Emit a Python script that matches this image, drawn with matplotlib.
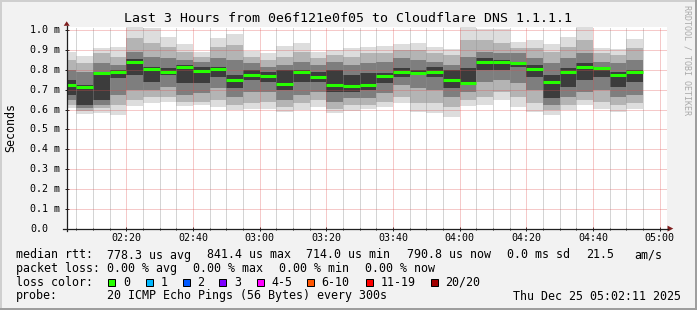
import matplotlib
matplotlib.use("Agg")
import matplotlib.pyplot as plt
from matplotlib.patches import Rectangle, Polygon
from matplotlib.lines import Line2D
from matplotlib.transforms import blended_transform_factory
import numpy as np

# ---------------- data ----------------
title = "Last 3 Hours from 0e6f121e0f05 to Cloudflare DNS 1.1.1.1"
graph_start_min = 2 + 11 / 60.0          # 02:02:11 (minutes after 02:00)
graph_span_min = 180
bar_end_min = list(range(5, 180, 5))     # 02:05 ... 04:55 (5-minute steps)

median_ms = [0.722, 0.714, 0.786, 0.789, 0.841, 0.805, 0.789, 0.813, 0.796, 0.803,
             0.749, 0.776, 0.768, 0.730, 0.789, 0.763, 0.724, 0.719, 0.725, 0.769,
             0.788, 0.783, 0.789, 0.747, 0.735, 0.840, 0.840, 0.835, 0.805, 0.740,
             0.789, 0.813, 0.808, 0.776, 0.791]

# smoke: outer (min/max) -> inner levels of the sorted pings
smoke_hi1 = [0.892, 0.872, 0.909, 0.914, 1.015, 1.012, 0.968, 0.931, 0.891, 0.963,
             0.980, 0.896, 0.887, 0.921, 0.938, 0.891, 0.901, 0.911, 0.917, 0.921,
             0.931, 0.938, 0.917, 0.904, 1.015, 1.005, 1.005, 0.941, 0.951, 0.931,
             0.968, 1.015, 0.911, 0.904, 0.956]
smoke_hi2 = [0.850, 0.833, 0.884, 0.867, 0.959, 0.934, 0.917, 0.892, 0.867, 0.917,
             0.926, 0.867, 0.850, 0.867, 0.892, 0.859, 0.875, 0.867, 0.884, 0.884,
             0.901, 0.901, 0.884, 0.875, 0.951, 0.951, 0.934, 0.909, 0.909, 0.892,
             0.917, 0.951, 0.884, 0.875, 0.909]
smoke_hi3 = [0.800, 0.791, 0.833, 0.825, 0.892, 0.867, 0.859, 0.850, 0.842, 0.859,
             0.850, 0.833, 0.817, 0.825, 0.842, 0.825, 0.842, 0.825, 0.833, 0.842,
             0.859, 0.850, 0.842, 0.825, 0.867, 0.892, 0.884, 0.884, 0.859, 0.833,
             0.859, 0.884, 0.842, 0.833, 0.850]
smoke_hi4 = [0.749, 0.724, 0.791, 0.800, 0.854, 0.817, 0.808, 0.825, 0.817, 0.817,
             0.775, 0.800, 0.791, 0.800, 0.800, 0.791, 0.800, 0.775, 0.783, 0.783,
             0.808, 0.800, 0.817, 0.800, 0.808, 0.859, 0.850, 0.842, 0.825, 0.775,
             0.808, 0.833, 0.817, 0.791, 0.800]
smoke_lo4 = [0.674, 0.623, 0.648, 0.758, 0.775, 0.741, 0.775, 0.733, 0.733, 0.766,
             0.707, 0.749, 0.741, 0.699, 0.741, 0.741, 0.691, 0.691, 0.699, 0.733,
             0.766, 0.775, 0.766, 0.707, 0.724, 0.800, 0.800, 0.817, 0.766, 0.657,
             0.716, 0.749, 0.766, 0.716, 0.741]
smoke_lo3 = [0.648, 0.606, 0.623, 0.674, 0.699, 0.699, 0.716, 0.674, 0.682, 0.707,
             0.665, 0.691, 0.691, 0.648, 0.674, 0.691, 0.640, 0.657, 0.657, 0.682,
             0.724, 0.707, 0.699, 0.665, 0.691, 0.741, 0.749, 0.733, 0.699, 0.623,
             0.665, 0.691, 0.699, 0.665, 0.674]
smoke_lo2 = [0.623, 0.595, 0.606, 0.623, 0.648, 0.665, 0.665, 0.640, 0.640, 0.648,
             0.623, 0.632, 0.640, 0.615, 0.632, 0.648, 0.601, 0.623, 0.623, 0.640,
             0.665, 0.632, 0.632, 0.615, 0.648, 0.665, 0.691, 0.665, 0.632, 0.598,
             0.623, 0.648, 0.640, 0.623, 0.632]
smoke_lo1 = [0.606, 0.578, 0.585, 0.573, 0.618, 0.635, 0.640, 0.618, 0.622, 0.612,
             0.598, 0.601, 0.601, 0.590, 0.598, 0.612, 0.581, 0.595, 0.601, 0.612,
             0.632, 0.590, 0.581, 0.564, 0.618, 0.622, 0.648, 0.612, 0.588, 0.575,
             0.598, 0.623, 0.601, 0.588, 0.601]

x_major_min = [20, 40, 60, 80, 100, 120, 140, 160, 180]
x_major_labels = ["02:20", "02:40", "03:00", "03:20", "03:40", "04:00", "04:20", "04:40", "05:00"]
y_ticks = [0.0, 0.1, 0.2, 0.3, 0.4, 0.5, 0.6, 0.7, 0.8, 0.9, 1.0]
y_labels = ["0.0", "0.1 m", "0.2 m", "0.3 m", "0.4 m", "0.5 m", "0.6 m", "0.7 m",
            "0.8 m", "0.9 m", "1.0 m"]

legend_rtt = ["778.3 us avg", "841.4 us max", "714.0 us min", "790.8 us now",
              "0.0 ms sd", "21.5", "am/s"]
legend_loss = ["0.00 % avg", "0.00 % max", "0.00 % min", "0.00 % now"]
loss_labels = ["0", "1", "2", "3", "4-5", "6-10", "11-19", "20/20"]
loss_colors = ["#26ff00", "#00b8ff", "#0059ff", "#7e00ff", "#ff00ff", "#ff5500",
               "#ff0000", "#a10000"]
probe_text = "20 ICMP Echo Pings (56 Bytes) every 300s"
date_text = "Thu Dec 25 05:02:11 2025"

# ---------------- layout ----------------
W, H = 697, 310
MONO = "DejaVu Sans Mono"
BACK = "#f2f2f2"
GRID = (0.56, 0.56, 0.56, 0.75)
MGRID = (0.87, 0.31, 0.31, 0.6)
AXIS = "#1f1f1f"
ARROW = (0.5, 0.12, 0.12)

def fx(x):
    return x / W

def fy(y):
    return 1 - y / H

fig = plt.figure(figsize=(W / 100, H / 100), dpi=100)
fig.patch.set_facecolor(BACK)

plot_l, plot_r, plot_t, plot_b = 67, 667, 27, 228.6
ax = fig.add_axes([fx(plot_l), fy(plot_b), (plot_r - plot_l) / W, (plot_b - plot_t) / H])
ax.set_facecolor("white")
ax.set_xlim(graph_start_min, graph_start_min + graph_span_min)
ax.set_ylim(0, 1 + 3.3 / 198.3)
for s in ax.spines.values():
    s.set_visible(False)

# smoke bands
edges = [graph_start_min] + bar_end_min
def ext(v):
    return list(v) + [v[-1]]

band_colors = ["#dddddd", "#b4b4b4", "#7e7e7e", "#3c3c3c"]
bands = [(smoke_lo1, smoke_hi1), (smoke_lo2, smoke_hi2),
         (smoke_lo3, smoke_hi3), (smoke_lo4, smoke_hi4)]
for (lo, hi), c in zip(bands, band_colors):
    ax.fill_between(edges, ext(lo), ext(hi), step="post", color=c, linewidth=0, zorder=2)

# grid (rrdtool draws it over the graph)
dash = (0, (1, 1))
minor_x = [m for m in range(5, 185, 5) if m not in x_major_min]
for m in minor_x:
    ax.axvline(m, color=GRID, lw=0.72, ls=dash, zorder=3)
for m in x_major_min:
    ax.axvline(m, color=MGRID, lw=0.72, ls=dash, zorder=3)
for v in y_ticks[1:]:
    ax.axhline(v, color=MGRID, lw=0.72, ls=dash, zorder=3)

# median line
starts = edges[:-1]
ax.hlines(median_ms, starts, bar_end_min, colors=loss_colors[0], linewidth=2.2,
          zorder=4, capstyle="butt")

# ticks
ax.set_xticks(x_major_min)
ax.set_xticks(minor_x, minor=True)
ax.set_yticks(y_ticks)
ax.tick_params(axis="both", which="major", direction="inout", length=2.9, width=0.72,
               color=AXIS, labelbottom=False, labelleft=False)
ax.tick_params(axis="both", which="minor", direction="inout", length=1.5, width=0.72,
               color=AXIS)

# tick labels
tx = blended_transform_factory(ax.transData, fig.transFigure)
for m, lab in zip(x_major_min, x_major_labels):
    fig.text(m, fy(237.6), lab, transform=tx, ha="center", va="center",
             family=MONO, fontsize=7.2, color="black")
ty = blended_transform_factory(fig.transFigure, ax.transData)
for v, lab in zip(y_ticks, y_labels):
    fig.text(fx(30.2), v, lab, transform=ty, ha="left", va="center",
             family=MONO, fontsize=7.2, color="black")

# axis lines and arrows
fig.add_artist(Line2D([fx(63), fx(668)], [fy(plot_b), fy(plot_b)], color=AXIS, lw=0.9))
fig.add_artist(Line2D([fx(66.7), fx(66.7)], [fy(231), fy(25.5)], color=AXIS, lw=0.9))
fig.add_artist(Polygon([(fx(63.7), fy(25.8)), (fx(69.7), fy(25.8)), (fx(66.7), fy(21.3))],
                       closed=True, color=ARROW, lw=0))
fig.add_artist(Polygon([(fx(667.5), fy(plot_b - 3)), (fx(667.5), fy(plot_b + 3)),
                        (fx(673.3), fy(plot_b))], closed=True, color=ARROW, lw=0))

# title and labels
fig.text(fx(347.5), fy(19.0), title, ha="center", va="center", family=MONO,
         fontsize=9.55, color="black")
fig.text(fx(10.5), fy(127.8), "Seconds", rotation=90, ha="center", va="center",
         family=MONO, fontsize=8.35, color="black")
fig.text(fx(687.5), fy(60), "RRDTOOL / TOBI OETIKER", rotation=270, ha="center",
         va="center", family=MONO, fontsize=6.0, color="#aaaaaa")

# legend
LF = 8.35
def ltext(x, y, s, **kw):
    fig.text(fx(x), fy(y), s, family=MONO, fontsize=LF, va="center", color="black", **kw)

y1, y2, y3, y4 = 255.0, 268.7, 282.0, 296.0
ltext(16.0, y1, "median rtt:")
for x, s in zip([107.0, 206.6, 306.0, 407.0, 507.0, 586.0, 634.3], legend_rtt):
    ltext(x, y1, s)
ltext(16.0, y2, "packet loss:")
for x, s in zip([107.0, 192.6, 278.6, 365.0], legend_loss):
    ltext(x, y2, s)
ltext(16.0, y3, "loss color:")
box_x = [108.3, 145.7, 182.7, 219.3, 256.7, 306.7, 365.7, 430.7]
for x, lab, c in zip(box_x, loss_labels, loss_colors):
    fig.add_artist(Rectangle((fx(x), fy(285.7)), 7 / W, 7 / H, facecolor=c,
                             edgecolor="black", lw=0.72))
    ltext(x + 14.6, y3, lab)
ltext(16.0, y4, "probe:")
ltext(107.0, y4, probe_text)
ltext(681.0, y4, date_text, ha="right")

# frame (rrdtool shade A / shade B)
fig.add_artist(Rectangle((0, fy(2)), 1, 2 / H, facecolor="#cfcfcf", lw=0))
fig.add_artist(Rectangle((0, 0), 2 / W, 1, facecolor="#cfcfcf", lw=0))
fig.add_artist(Rectangle((0, 0), 1, 2 / H, facecolor="#9e9e9e", lw=0))
fig.add_artist(Rectangle((fx(695), 0), 2 / W, 1, facecolor="#9e9e9e", lw=0))

fig.savefig("out.png", dpi=100, facecolor=BACK)
